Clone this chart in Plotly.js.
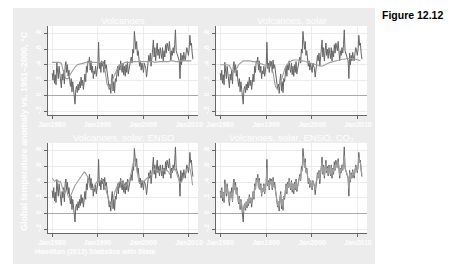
<!DOCTYPE html>
<html><head><meta charset="utf-8">
<script src="https://cdn.plot.ly/plotly-3.0.1.min.js"></script>
<style>
html,body{margin:0;padding:0;background:#fff;}
#wrap{position:relative;width:467px;height:266px;}
#bg{position:absolute;left:13px;top:8px;width:362px;height:256px;background:#ececec;}
#chart{position:absolute;left:0;top:0;width:467px;height:266px;}
</style></head>
<body><div id="wrap"><div id="bg"></div><div id="chart"></div></div>
<script>
// Observed temperature anomaly, bi-monthly (Jan, Mar, May, Jul, Sep, Nov), 1980-2010
const observed = [
 .29,.20,.33,.16,.27,.14,
 .43,.30,.22,.38,.25,.20,
 .10,.28,.20,.33,.15,.38,
 .44,.30,.40,.25,.33,.20,
 .12,.22,.05,.18,.10,-.02,
 -.11,.08,.12,.04,.15,.07,
 .18,.10,.24,.13,.20,.08,
 .22,.28,.18,.38,.30,.45,
 .42,.50,.33,.45,.30,.38,
 .22,.32,.28,.38,.25,.33,
 .40,.69,.35,.42,.30,.45,
 .38,.44,.30,.46,.35,.40,
 .32,.25,.12,.08,.15,.03,
 .20,.28,.06,.18,.04,.22,
 .18,.30,.38,.25,.40,.33,
 .45,.35,.30,.42,.27,.38,
 .25,.40,.30,.44,.28,.34,
 .38,.45,.50,.42,.60,.55,
 .83,.72,.60,.70,.52,.58,
 .48,.38,.45,.33,.42,.36,
 .30,.42,.38,.35,.24,.38,
 .40,.52,.45,.55,.38,.58,
 .60,.72,.50,.62,.45,.58,
 .68,.52,.60,.48,.62,.55,
 .48,.62,.45,.58,.50,.66,
 .55,.68,.62,.58,.70,.60,
 .45,.58,.52,.62,.55,.66,
 .85,.58,.55,.50,.48,.45,
 .22,.55,.40,.52,.45,.56,
 .48,.45,.55,.62,.58,.52,
 .60,.78,.65,.68,.55,.47];
// Predicted: volcanoes only (semi-annual, Jan & Jul)
const predVolc = [
 .43,.43, .43,.43, .42,.30, .22,.22, .28,.33, .37,.40, .41,.42, .42,.43,
 .43,.43, .43,.43, .43,.43, .43,.36, .15,.10, .16,.25, .32,.37, .40,.42,
 .43,.43, .43,.44, .44,.44, .44,.44, .44,.44, .44,.44, .44,.43, .44,.44,
 .44,.44, .44,.44, .45,.45, .44,.44, .45,.45, .45,.45, .45,.45];
// Predicted: volcanoes, solar (semi-annual)
const predSolar = [
 .40,.40, .40,.40, .39,.33, .30,.34, .40,.43, .45,.45, .45,.45, .44,.44,
 .43,.42, .41,.40, .39,.38, .38,.30, .12,.08, .14,.25, .34,.40, .43,.45,
 .46,.46, .46,.45, .45,.44, .43,.42, .41,.40, .40,.39, .38,.39, .41,.42,
 .43,.44, .45,.46, .46,.47, .47,.48, .48,.48, .48,.47, .46,.45];
// Predicted: volcanoes, solar, ENSO (quarterly, Jan Apr Jul Oct)
const predEnso = [
 .45,.43,.41,.42, .43,.42,.40,.41, .38,.32,.28,.25, .30,.28,.22,.20,
 .22,.26,.30,.33, .36,.38,.40,.42, .44,.46,.48,.50, .53,.52,.50,.47,
 .40,.33,.30,.32, .32,.35,.38,.40, .40,.42,.41,.43, .42,.40,.36,.30,
 .25,.18,.12,.10, .12,.16,.22,.28, .32,.36,.38,.40, .42,.40,.38,.36,
 .34,.36,.38,.42, .44,.50,.58,.66, .72,.66,.58,.48, .40,.38,.40,.42,
 .40,.42,.44,.45, .46,.48,.50,.52, .54,.55,.57,.56, .55,.54,.53,.55,
 .54,.56,.55,.54, .56,.55,.53,.50, .52,.55,.57,.58, .56,.52,.48,.42,
 .38,.40,.44,.46, .48,.52,.56,.58, .60,.56,.48,.36];
// Predicted: volcanoes, solar, ENSO, CO2 (bi-monthly)
const predCO2 = [
 .27,.22,.30,.20,.26,.18, .38,.30,.25,.34,.26,.22, .14,.26,.20,.28,.16,.32,
 .40,.30,.36,.24,.30,.20, .14,.20,.08,.16,.12,.04, .02,.10,.13,.07,.15,.10,
 .18,.12,.22,.15,.20,.12, .22,.27,.20,.35,.30,.42, .40,.46,.32,.42,.30,.36,
 .24,.31,.28,.36,.27,.33, .38,.58,.36,.40,.32,.42, .37,.42,.32,.43,.33,.36,
 .28,.22,.14,.10,.15,.08, .18,.25,.10,.18,.08,.22, .20,.30,.36,.27,.38,.33,
 .43,.36,.32,.40,.30,.38, .28,.38,.32,.42,.30,.35, .38,.44,.48,.43,.56,.54,
 .74,.68,.58,.66,.52,.56, .46,.40,.44,.36,.42,.38, .32,.42,.38,.36,.30,.40,
 .42,.50,.46,.53,.42,.55, .58,.66,.52,.60,.48,.57, .64,.54,.58,.50,.60,.55,
 .50,.60,.48,.57,.52,.62, .56,.65,.60,.58,.66,.60, .48,.57,.53,.60,.56,.63,
 .74,.58,.55,.52,.50,.46, .32,.52,.42,.50,.46,.54, .50,.48,.55,.60,.58,.54,
 .60,.72,.65,.66,.56,.50];
const panelTitles = ["Volcanoes","Volcanoes, solar","Volcanoes, solar, ENSO","Volcanoes, solar, ENSO, CO₂"];
const xTickVals = ["1980-01-01","1990-01-01","2000-01-01","2010-01-01"];
const xTickText = ["Jan1980","Jan1990","Jan2000","Jan2010"];
const yTickVals = [-0.2,0,0.2,0.4,0.6,0.8];
const yTickText = ["-.2","0",".2",".4",".6",".8"];

function monthDates(months){
  const out=[];
  for(let y=1980;y<=2010;y++) for(const m of months) out.push(y+"-"+String(m).padStart(2,"0")+"-15");
  return out;
}
const dBi = monthDates([1,3,5,7,9,11]);
const dQ = monthDates([1,4,7,10]);
const dS = monthDates([1,7]);

const obsColor="#666666", predColor="#9e9e9e";
const preds=[[dS,predVolc],[dS,predSolar],[dQ,predEnso],[dBi,predCO2]];
const traces=[];
for(let i=0;i<4;i++){
  const xa = i===0?"x":"x"+(i+1), ya = i===0?"y":"y"+(i+1);
  traces.push({x:dBi,y:observed,type:"scatter",mode:"lines",xaxis:xa,yaxis:ya,line:{color:obsColor,width:1},hoverinfo:"skip"});
  traces.push({x:preds[i][0],y:preds[i][1],type:"scatter",mode:"lines",xaxis:xa,yaxis:ya,line:{color:predColor,width:1.1},hoverinfo:"skip"});
}
const W=467,H=266;
const xd=[[48/W,198/W],[216/W,367/W]];
const yd=[[(H-115)/H,(H-26)/H],[(H-233)/H,(H-143)/H]];
const font="Liberation Sans, Arial, sans-serif";
const layout={width:W,height:H,margin:{l:0,r:0,t:0,b:0},showlegend:false,
  paper_bgcolor:"rgba(0,0,0,0)",plot_bgcolor:"#ffffff",font:{family:font},annotations:[]};
for(let i=0;i<4;i++){
  const col=i%2,row=Math.floor(i/2);
  const sx=i===0?"":String(i+1);
  layout["xaxis"+sx]={domain:xd[col],anchor:"y"+sx,type:"date",range:["1979-02-12","2011-12-25"],
    tickvals:xTickVals,ticktext:xTickText,ticks:"outside",ticklen:3,tickcolor:"#666",tickwidth:1,
    showline:true,linecolor:"#666",linewidth:1,showgrid:true,gridcolor:"#ececec",gridwidth:1,zeroline:false,
    tickfont:{color:"#ffffff",size:7,family:font,weight:"bold"},fixedrange:true};
  layout["yaxis"+sx]={domain:yd[row],anchor:"x"+sx,range:[-0.25,0.9],tickvals:yTickVals,ticktext:yTickText,
    ticks:"outside",ticklen:3,tickcolor:"#666",showline:true,linecolor:"#666",linewidth:1,
    showgrid:true,gridcolor:"#ececec",zeroline:true,zerolinecolor:"#aaaaaa",zerolinewidth:1.5,tickangle:-90,
    tickfont:{color:"#ffffff",size:7,family:font,weight:"bold"},fixedrange:true};
  layout.annotations.push({text:panelTitles[i],xref:"paper",yref:"paper",x:(xd[col][0]+xd[col][1])/2,
    y:row===0?(H-20)/H:(H-137)/H,xanchor:"center",yanchor:"middle",showarrow:false,
    font:{color:"#ffffff",size:9.5,family:font}});
}
layout.annotations.push({text:"Global temperature anomaly vs. 1951–2000, °C",xref:"paper",yref:"paper",
  x:24/W,y:(H-131)/H,textangle:-90,showarrow:false,xanchor:"center",yanchor:"middle",
  font:{color:"#ffffff",size:9,family:font,weight:"bold"}});
layout.annotations.push({text:"Hamilton (2012) Statistics with Stata",xref:"paper",yref:"paper",
  x:33/W,y:(H-252)/H,xanchor:"left",yanchor:"middle",showarrow:false,
  font:{color:"#ffffff",size:7,family:font,weight:"bold"}});
layout.annotations.push({text:"Figure 12.12",xref:"paper",yref:"paper",
  x:380/W,y:(H-15)/H,xanchor:"left",yanchor:"middle",showarrow:false,
  font:{color:"#000000",size:10.5,family:font,weight:"bold"}});
Plotly.newPlot("chart",traces,layout,{staticPlot:true,displayModeBar:false});
</script></body></html>
